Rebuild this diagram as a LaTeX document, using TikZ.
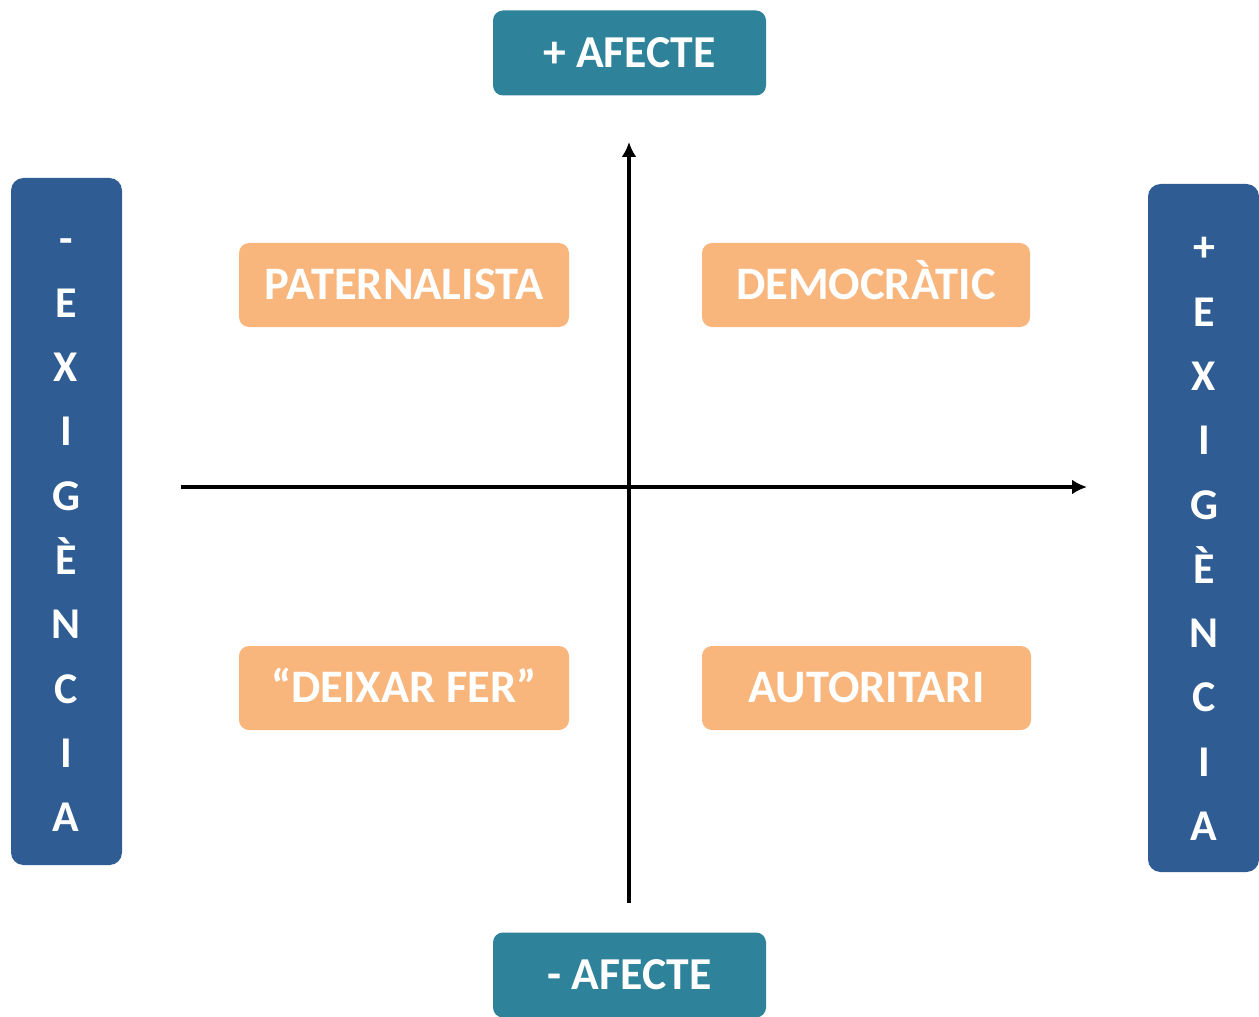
\documentclass[tikz,border=0pt]{standalone}
\usepackage{fontspec}
\setmainfont{Carlito}
\usetikzlibrary{arrows.meta}
\definecolor{tealbox}{HTML}{2E8299}
\definecolor{bluebar}{HTML}{2F5C93}
\definecolor{orangebox}{HTML}{F8B67D}
\begin{document}
\begin{tikzpicture}[x=0.02cm,y=-0.02cm,
  affbox/.style={fill=tealbox,rounded corners=0.2cm,minimum width=273*0.02cm,minimum height=85*0.02cm,inner sep=0pt,text=white,text height=16.7pt,text depth=0pt,font=\bfseries\fontsize{26}{30}\selectfont},
  barbox/.style={fill=bluebar,rounded corners=0.25cm,minimum width=111*0.02cm,inner sep=0pt},
  bartext/.style={text=white,align=center,inner sep=0pt,font=\bfseries\fontsize{25}{36.6}\selectfont},
  stylebox/.style={fill=orangebox,rounded corners=0.2cm,minimum width=330*0.02cm,minimum height=84*0.02cm,inner sep=0pt,text=white,text height=17pt,text depth=0pt,font=\bfseries\fontsize{26.5}{30}\selectfont},
  axis/.style={line width=2.2pt,-{Latex[length=3mm,width=3mm]}}]
\useasboundingbox (0,0) rectangle (1259,1017);
% axes
\coordinate (vbot) at (629,903);
\coordinate (vtop) at (629,142);
\coordinate (hleft) at (181,487);
\coordinate (hright) at (1087,487);
\draw[axis] (vbot) -- (vtop);
\draw[axis] (hleft) -- (hright);
% top/bottom
\node[affbox] (top) at (629.5,53) {+ AFECTE};
\node[affbox] (bot) at (629.5,975) {- AFECTE};
% bars
\node[barbox,minimum height=687*0.02cm] (lbar) at (66.5,521.5) {};
\node[barbox,minimum height=688*0.02cm] (rbar) at (1203.5,528) {};
\node[bartext] (ltext) at (66,535) {-\\E\\X\\I\\G\\È\\N\\C\\I\\A};
\node[bartext] (rtext) at (1204,539) {+\\E\\X\\I\\G\\È\\N\\C\\I\\A};
% styles
\node[stylebox] (pat) at (404,285) {PATERNALISTA};
\node[stylebox,minimum width=328*0.02cm] (dem) at (866,285) {DEMOCRÀTIC};
\node[stylebox] (dei) at (404,688) {“DEIXAR FER”};
\node[stylebox,minimum width=329*0.02cm] (aut) at (866.5,688) {AUTORITARI};
\end{tikzpicture}
\end{document}
